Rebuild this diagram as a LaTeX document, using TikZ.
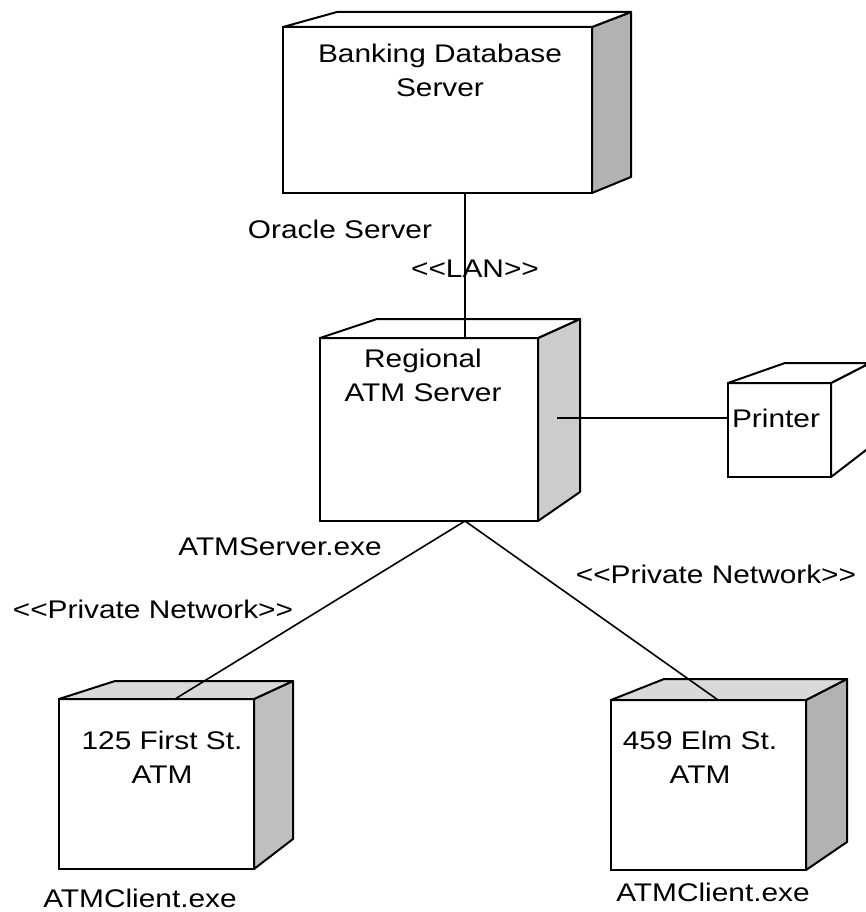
\documentclass[tikz,border=0pt]{standalone}
\usepackage{fontspec}
\setmainfont{Liberation Sans}[FakeStretch=1.17]
\usetikzlibrary{calc}

\begin{document}
\begin{tikzpicture}[x=1pt,y=-1pt,
  front/.style={draw,line width=2pt,fill=white,inner sep=0pt,outer sep=0pt,anchor=north west},
  face/.style={draw,line width=2pt,line join=round},
  link/.style={line width=1.6pt},
  lbl/.style={inner sep=0pt,font=\fontsize{25.5}{34}\selectfont},
  ttl/.style={lbl,align=center}]
\useasboundingbox (0,0) rectangle (865,912);

\node[front,minimum width=309,minimum height=166] (bankdb) at (283,27) {};
\draw[face,fill=gray!60] (bankdb.north east) -- (631,12) -- (631,177) -- (bankdb.south east) -- cycle;
\draw[face,fill=white] (bankdb.north west) -- (337,12) -- (631,12) -- (bankdb.north east) -- cycle;
\node[ttl] (bankdbtxt) at (440,70) {Banking Database\\Server};

\node[front,minimum width=218,minimum height=183] (regsrv) at (320,338) {};
\draw[face,fill=gray!40] (regsrv.north east) -- (580,319) -- (580,492) -- (regsrv.south east) -- cycle;
\draw[face,fill=white] (regsrv.north west) -- (377,319) -- (580,319) -- (regsrv.north east) -- cycle;
\node[ttl] (regsrvtxt) at (423,375) {Regional\\ATM Server};

\node[front,minimum width=103,minimum height=94] (printer) at (728,383) {};
\draw[face,fill=white] (printer.north east) -- (870,363) -- (870,447) -- (printer.south east) -- cycle;
\draw[face,fill=white] (printer.north west) -- (785,363) -- (870,363) -- (printer.north east) -- cycle;
\node[lbl,anchor=base] (printertxt) at (776,427) {Printer};

\node[front,minimum width=195,minimum height=170] (atmfirst) at (59,699) {};
\draw[face,fill=gray!50] (atmfirst.north east) -- (293,681) -- (293,839) -- (atmfirst.south east) -- cycle;
\draw[face,fill=gray!30] (atmfirst.north west) -- (115,681) -- (293,681) -- (atmfirst.north east) -- cycle;
\node[ttl] (atmfirsttxt) at (162,757) {125 First St.\\ATM};

\node[front,minimum width=195,minimum height=170] (atmelm) at (611,700) {};
\draw[face,fill=gray!60] (atmelm.north east) -- (847,679) -- (847,842) -- (atmelm.south east) -- cycle;
\draw[face,fill=gray!30] (atmelm.north west) -- (664,679) -- (847,679) -- (atmelm.north east) -- cycle;
\node[ttl] (atmelmtxt) at (700,757) {459 Elm St.\\ATM};

\coordinate (hub) at (465,521);
\coordinate (prnport) at (557,418);
\coordinate (firstport) at (175,699);
\coordinate (elmport) at (718,700);

\draw[link] (bankdb.south -| hub) -- (regsrv.north -| hub);
\draw[link] (prnport) -- (printer.west |- prnport);
\draw[link] (hub) -- (firstport);
\draw[link] (hub) -- (elmport);

\node[lbl,anchor=base] (oracle) at (340,238) {Oracle Server};
\node[lbl,anchor=base] (lan) at (475,277) {<{}<LAN>{}>};
\node[lbl,anchor=base] (srvexe) at (280,555) {ATMServer.exe};
\node[lbl,anchor=base] (pnfirst) at (153,618) {<{}<Private Network>{}>};
\node[lbl,anchor=base] (pnelm) at (716,583) {<{}<Private Network>{}>};
\node[lbl,anchor=base] (clientfirst) at (140,907) {ATMClient.exe};
\node[lbl,anchor=base] (clientelm) at (713,901) {ATMClient.exe};
\end{tikzpicture}
\end{document}
